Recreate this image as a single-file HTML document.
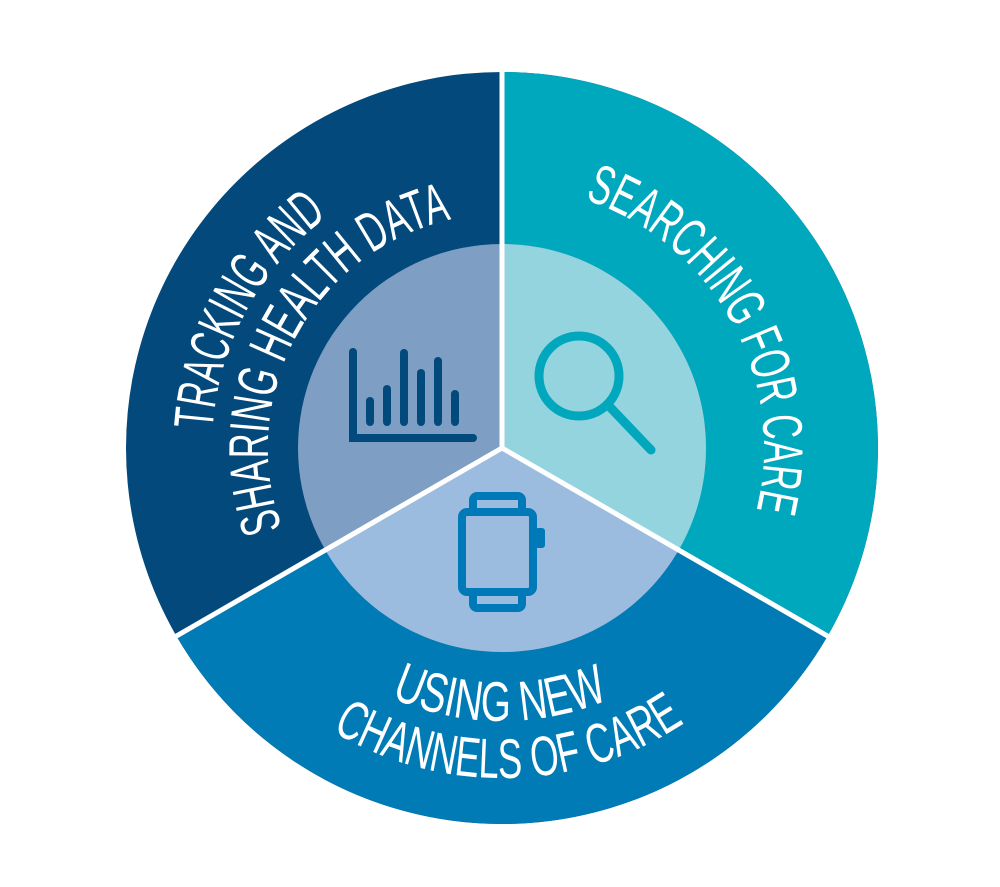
<!DOCTYPE html>
<html><head><meta charset="utf-8"><style>
html,body{margin:0;padding:0;background:#fff;}
svg{display:block;}
text{font-family:"Liberation Sans Narrow","Liberation Sans",sans-serif;fill:#fff;font-size:56px;}
</style></head><body>
<svg width="1000" height="887" viewBox="0 0 1000 887" xmlns="http://www.w3.org/2000/svg">
<defs>
<path id="p1" d="M212.6,429.8 A290,290 0 0 1 327.5,216.4"/>
<path id="p2" d="M282.1,528.0 A234,234 0 0 1 451.4,219.5"/>
<path id="p3" d="M584.7,199.4 A262,262 0 0 1 756.4,510.5"/>
<path id="p4" d="M391.0,697.4 A273,273 0 0 0 608.7,699.3"/>
<path id="p5" d="M332.0,730.9 A330,330 0 0 0 686.5,721.6"/>
</defs>
<circle cx="502" cy="448" r="376" fill="#03497b"/>
<path d="M502,448 L502,72 A376,376 0 0 1 827.6,636 Z" fill="#00a8bd"/>
<path d="M502,448 L827.6,636 A376,376 0 0 1 176.4,636 Z" fill="#007bb5"/>
<circle cx="502" cy="448" r="204" fill="#7f9ec3"/>
<path d="M502,448 L502,244 A204,204 0 0 1 678.7,550 Z" fill="#93d4df"/>
<path d="M502,448 L678.7,550 A204,204 0 0 1 325.3,550 Z" fill="#9bbcde"/>
<g stroke="#fff" stroke-width="5">
<line x1="502" y1="448" x2="502" y2="68"/>
<line x1="502" y1="448" x2="831" y2="638"/>
<line x1="502" y1="448" x2="173" y2="638"/>
</g>
<g stroke="#034a7c" stroke-width="8" stroke-linecap="round" fill="none">
<path d="M353,352 L353,438 L473,438"/>
<line x1="370" y1="401" x2="370" y2="422"/>
<line x1="387" y1="389" x2="387" y2="422"/>
<line x1="404" y1="353" x2="404" y2="422"/>
<line x1="421" y1="373" x2="421" y2="422"/>
<line x1="438" y1="361" x2="438" y2="422"/>
<line x1="455" y1="394" x2="455" y2="422"/>
</g>
<g stroke="#00a7bd" stroke-width="9" stroke-linecap="round" fill="none">
<circle cx="579" cy="376" r="40"/>
<line x1="608" y1="405" x2="651" y2="450"/>
</g>
<g stroke="#0079b8" stroke-width="8" fill="none" stroke-linejoin="round">
<rect x="462" y="512" width="71" height="80" rx="5"/>
<rect x="473" y="496" width="49" height="16" rx="4"/>
<rect x="473" y="592" width="49" height="16" rx="4"/>
</g>
<rect x="535" y="528" width="10" height="20" rx="3" fill="#0079b8"/>
<text><textPath href="#p1" textLength="250" lengthAdjust="spacingAndGlyphs">TRACKING AND</textPath></text>
<text><textPath href="#p2" textLength="398" lengthAdjust="spacingAndGlyphs">SHARING HEALTH DATA</textPath></text>
<text><textPath href="#p3" textLength="390" lengthAdjust="spacingAndGlyphs">SEARCHING FOR CARE</textPath></text>
<text><textPath href="#p4" textLength="224" lengthAdjust="spacingAndGlyphs">USING NEW</textPath></text>
<text><textPath href="#p5" textLength="372" lengthAdjust="spacingAndGlyphs">CHANNELS OF CARE</textPath></text>
</svg>
</body></html>
